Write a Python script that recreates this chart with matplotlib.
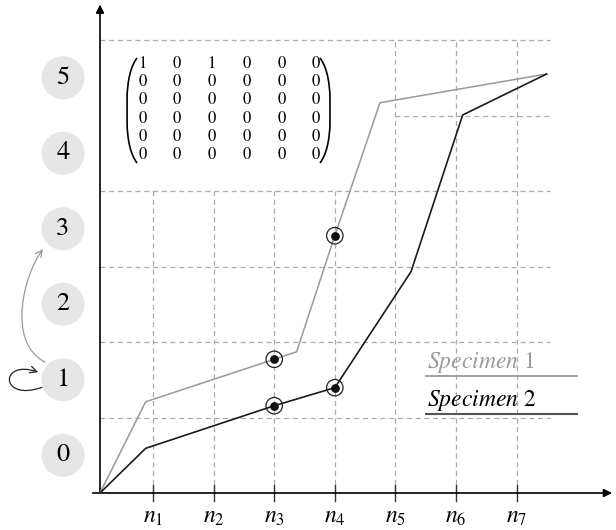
import numpy as np
import matplotlib.pyplot as plt
from matplotlib.path import Path
from matplotlib.patches import FancyArrowPatch, PathPatch

plt.rcParams['mathtext.fontset'] = 'stix'
plt.rcParams['font.family'] = 'STIXGeneral'

# sample positions on the horizontal axis
n_labels = [r'$n_1$', r'$n_2$', r'$n_3$', r'$n_4$', r'$n_5$', r'$n_6$', r'$n_7$']
n_pos = [0.875, 1.875, 2.875, 3.875, 4.875, 5.875, 6.875]

# state levels shown in the left column
levels = [0, 1, 2, 3, 4, 5]

# specimen curves
spec1_x = [0.0, 0.754, 2.875, 3.245, 3.875, 4.62, 7.37]
spec1_y = [0.0, 1.209, 1.771, 1.871, 3.408, 5.169, 5.55]
spec2_x = [0.0, 0.754, 2.875, 3.875, 5.132, 5.985, 7.37]
spec2_y = [0.0, 0.592, 1.156, 1.395, 2.931, 5.007, 5.55]

# highlighted measurements
mark1_x = [2.875, 3.875]
mark1_y = [1.771, 3.408]
mark2_x = [2.875, 3.875]
mark2_y = [1.156, 1.395]

matrix = [[1, 0, 1, 0, 0, 0],
          [0, 0, 0, 0, 0, 0],
          [0, 0, 0, 0, 0, 0],
          [0, 0, 0, 0, 0, 0],
          [0, 0, 0, 0, 0, 0],
          [0, 0, 0, 0, 0, 0]]

fig = plt.figure(figsize=(6.16, 5.30), dpi=100)
ax = fig.add_axes([0, 0, 1, 1])
ax.set_xlim(-1.65, 8.515)
ax.set_ylim(-0.49, 6.53)
ax.axis('off')

grid_kw = dict(color='#aaaaaa', lw=0.9, ls=(0, (4, 3)), zorder=1)
x_end = 7.43

# horizontal dashed guides
for lv in [1, 2, 3, 4, 6]:
    ax.plot([0, x_end], [lv, lv], **grid_kw)
ax.plot([n_pos[4], x_end], [5, 5], **grid_kw)

# vertical dashed guides (short ones stop below the matrix)
for i, xp in enumerate(n_pos):
    top = 4 if i < 4 else 6
    ax.plot([xp, xp], [0, top], **grid_kw)
    ax.plot([xp, xp], [-0.11, 0.11], color='#333333', lw=1.0, zorder=3)
    ax.text(xp, -0.32, n_labels[i], ha='center', va='center', fontsize=17)

# axes with arrow heads
ax.annotate('', xy=(8.45, 0), xytext=(-0.12, 0),
            arrowprops=dict(arrowstyle='-|>', color='black', lw=1.2,
                            mutation_scale=12, shrinkA=0, shrinkB=0))
ax.annotate('', xy=(0, 6.47), xytext=(0, 0),
            arrowprops=dict(arrowstyle='-|>', color='black', lw=1.2,
                            mutation_scale=12, shrinkA=0, shrinkB=0))

# curves
ax.plot(spec1_x, spec1_y, color='#999999', lw=1.1, zorder=4)
ax.plot(spec2_x, spec2_y, color='#1a1a1a', lw=1.2, zorder=4)

for mx, my in [(mark1_x, mark1_y), (mark2_x, mark2_y)]:
    ax.scatter(mx, my, s=140, facecolor='none', edgecolor='#222222',
               linewidths=0.9, zorder=5)
    ax.scatter(mx, my, s=28, color='#111111', zorder=6)

# level bubbles
bx = -0.61
for lv in levels:
    ax.scatter([bx], [lv + 0.5], s=960, color='#e6e6e6', edgecolor='none', zorder=2)
    ax.text(bx, lv + 0.5, str(lv), ha='center', va='center', fontsize=19, zorder=3)

# self loop on level 1
loop = Path([(-0.957, 1.40), (-1.66, 1.20), (-1.66, 1.78), (-1.02, 1.60)],
            [Path.MOVETO, Path.CURVE4, Path.CURVE4, Path.CURVE4])
ax.add_patch(FancyArrowPatch(path=loop, arrowstyle='->', mutation_scale=12,
                             color='#222222', lw=0.9))

# jump from level 1 to level 3
jump = Path([(-0.908, 1.735), (-1.55, 2.0), (-1.25, 2.9), (-0.94, 3.23)],
            [Path.MOVETO, Path.CURVE4, Path.CURVE4, Path.CURVE4])
ax.add_patch(FancyArrowPatch(path=jump, arrowstyle='->', mutation_scale=12,
                             color='#999999', lw=0.9))

# transition matrix
col0, dcol = 0.701, 0.5726
row0, drow = 5.682, 0.241
for r, row in enumerate(matrix):
    for c, v in enumerate(row):
        ax.text(col0 + c * dcol, row0 - r * drow, str(v), ha='center',
                va='center', fontsize=12)


def paren(x_end, x_mid, top, bot):
    # tall bracket: curved ends, straight middle
    d = x_mid - x_end
    verts = [(x_end, top), (x_end + 0.6 * d, top - 0.1), (x_mid, top - 0.3), (x_mid, top - 0.55),
             (x_mid, bot + 0.55),
             (x_mid, bot + 0.3), (x_end + 0.6 * d, bot + 0.1), (x_end, bot)]
    codes = [Path.MOVETO, Path.CURVE4, Path.CURVE4, Path.CURVE4,
             Path.LINETO, Path.CURVE4, Path.CURVE4, Path.CURVE4]
    return Path(verts, codes)


for p in [paren(0.611, 0.447, 5.762, 4.371), paren(3.63, 3.795, 5.762, 4.371)]:
    ax.add_patch(PathPatch(p, facecolor='none', edgecolor='black', lw=1.2))

# legend entries
ax.text(5.40, 1.656, r'$Specimen\ 1$', fontsize=17,
        color='#999999', ha='left', va='baseline')
ax.plot([5.38, 7.87], [1.55, 1.55], color='#999999', lw=1.3)
ax.text(5.40, 1.152, r'$Specimen\ 2$', fontsize=17,
        color='black', ha='left', va='baseline')
ax.plot([5.38, 7.87], [1.046, 1.046], color='#555555', lw=1.5)

fig.savefig('out.png', dpi=100, facecolor='white')
